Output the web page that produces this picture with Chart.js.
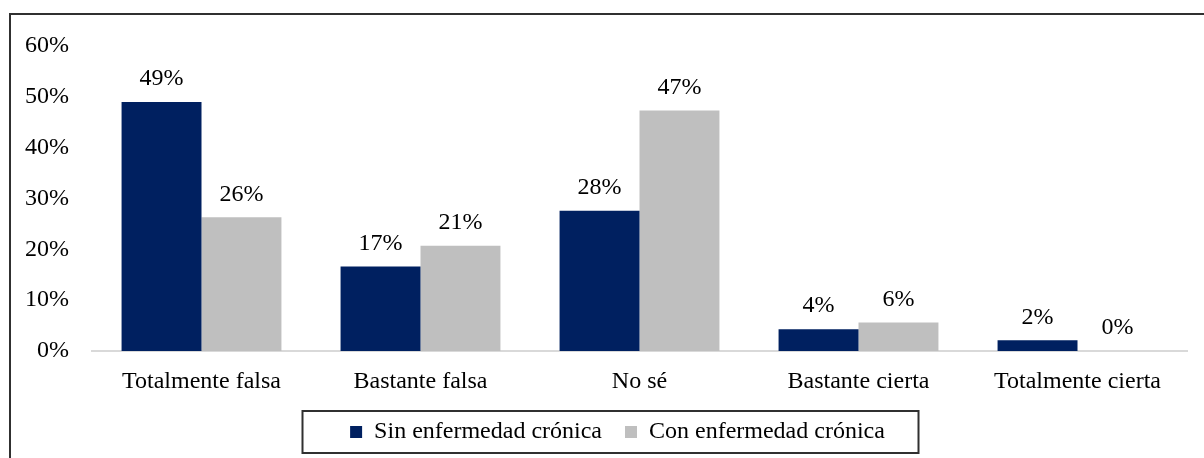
<!DOCTYPE html>
<html>
<head>
<meta charset="utf-8">
<script src="https://cdn.jsdelivr.net/npm/chart.js@4.4.1/dist/chart.umd.min.js"></script>
<style>
    html, body { margin: 0; padding: 0; background: #fff; overflow: hidden; }
    #wrap { position: relative; width: 1204px; height: 458px; }
    #frame {
        position: absolute; left: 9px; top: 13px; width: 1300px; height: 500px;
        border-left: 2px solid #303030; border-top: 2px solid #303030;
        pointer-events: none;
    }
</style>
</head>
<body>
<div id="wrap">
    <canvas id="respuestaChart" width="1204" height="458"></canvas>
    <div id="frame"></div>
</div>
<script>
const categorias = ["Totalmente falsa", "Bastante falsa", "No sé", "Bastante cierta", "Totalmente cierta"];
const sinEnfermedad = [49.0, 16.6, 27.6, 4.3, 2.1];
const conEnfermedad = [26.3, 20.7, 47.3, 5.6, 0];
const ticksY = [0, 10, 20, 30, 40, 50, 60];

const FONT = "'Liberation Serif', 'Times New Roman', serif";
const TAM = 24;

// etiquetas de porcentaje encima de cada barra
const etiquetasBarras = {
    id: "etiquetasBarras",
    afterDatasetsDraw(chart) {
        const ctx = chart.ctx;
        ctx.save();
        ctx.font = TAM + "px " + FONT;
        ctx.fillStyle = "#000";
        ctx.textAlign = "center";
        ctx.textBaseline = "middle";
        chart.data.datasets.forEach((ds, i) => {
            chart.getDatasetMeta(i).data.forEach((bar, j) => {
                ctx.fillText(Math.round(ds.data[j]) + "%", bar.x, bar.y - 23);
            });
        });
        ctx.restore();
    },
};

// leyenda algo desplazada a la derecha y con recuadro
const marcoLeyenda = {
    id: "marcoLeyenda",
    afterLayout(chart) {
        const lg = chart.legend;
        if (!lg) return;
        lg.left += 13;
        lg.right += 13;
    },
    afterDraw(chart) {
        const lg = chart.legend;
        if (!lg || !lg.legendHitBoxes.length) return;
        const hb = lg.legendHitBoxes[0];
        const cx = (lg.left + lg.right) / 2 - 7;
        const cy = hb.top + hb.height / 2;
        const ctx = chart.ctx;
        ctx.save();
        ctx.strokeStyle = "#303030";
        ctx.lineWidth = 2;
        ctx.strokeRect(cx - 308, cy - 21, 616, 42);
        ctx.restore();
    },
};

new Chart(document.getElementById("respuestaChart"), {
    type: "bar",
    data: {
        labels: categorias,
        datasets: [
            {
                label: "Sin enfermedad crónica",
                data: sinEnfermedad,
                backgroundColor: "#002060",
            },
            {
                label: "Con enfermedad crónica",
                data: conEnfermedad,
                backgroundColor: "#BFBFBF",
            },
        ],
    },
    options: {
        responsive: false,
        animation: false,
        devicePixelRatio: 1,
        layout: { padding: { left: 22, right: 17, top: 46, bottom: 4 } },
        datasets: { bar: { categoryPercentage: 0.73, barPercentage: 1 } },
        plugins: {
            tooltip: { enabled: false },
            legend: {
                position: "bottom",
                labels: {
                    font: { family: FONT, size: TAM },
                    color: "#000",
                    boxWidth: 12,
                    boxHeight: 12,
                    padding: 23,
                },
            },
        },
        scales: {
            x: {
                grid: { display: false, drawTicks: false },
                border: { display: true, color: "#D9D9D9", width: 2 },
                ticks: {
                    font: { family: FONT, size: TAM },
                    color: "#000",
                    padding: 16,
                    maxRotation: 0,
                },
                afterFit(scale) { scale.height = 46; },
            },
            y: {
                min: 0,
                max: 60,
                afterBuildTicks(scale) {
                    scale.ticks = ticksY.map((v) => ({ value: v }));
                },
                grid: { display: false, drawTicks: false },
                border: { display: false },
                ticks: {
                    font: { family: FONT, size: TAM },
                    color: "#000",
                    padding: 23,
                    callback: (v) => v + "%",
                },
                afterFit(scale) { scale.width = 70; },
            },
        },
    },
    plugins: [etiquetasBarras, marcoLeyenda],
});
</script>
</body>
</html>
